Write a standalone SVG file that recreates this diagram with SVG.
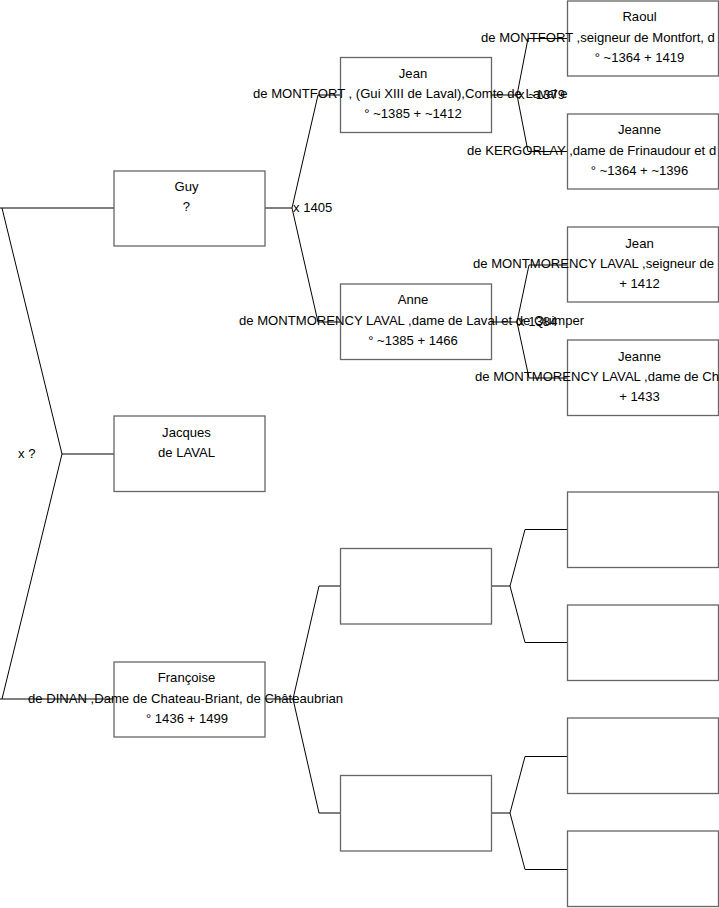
<svg xmlns="http://www.w3.org/2000/svg" width="719" height="908" viewBox="0 0 719 908">
<style>
.box{fill:#fff;stroke:#666;stroke-width:1.3}
.con{fill:none;stroke:#000;stroke-width:1}
text{font-family:"Liberation Sans",Arial,sans-serif;font-size:13.1px;fill:#000}
.c{text-anchor:middle}
</style>
<rect width="719" height="908" fill="#fff"/>
<g id="connectors" class="con">
<path d="M2,208 L62,454 L2,699 M0,208 H114 M0,699 H114 M62,454 H114"/>
<path d="M265,208 H292 M318,95 L292,208 L318,322 M318,95 H341 M318,322 H341"/>
<path d="M265,699 H293 M319,586 L293,699 L319,813 M319,586 H341 M319,813 H341"/>
<path d="M492,95 H517 M528,38.5 L517,95 L528,151.5 M528,38.5 H567 M528,151.5 H567"/>
<path d="M492,322 H517 M529,265 L517,322 L529,378 M529,265 H567 M529,378 H567"/>
<path d="M492,586 H510 M525,529.5 L510,586 L525,642.5 M525,529.5 H567 M525,642.5 H567"/>
<path d="M492,813 H510 M525,756.5 L510,813 L525,869.5 M525,756.5 H567 M525,869.5 H567"/>
</g>
<g id="labels">
<text x="18" y="458">x ?</text>
<text x="293" y="212">x 1405</text>
<text x="518" y="99">x ~1379</text>
<text x="518" y="326">x 1384</text>
</g>
<g id="guy">
<rect class="box" x="114" y="171" width="151" height="75"/>
<text class="c" x="186.5" y="191">Guy</text>
<text class="c" x="186.5" y="211">?</text>
</g>
<g id="jacques">
<rect class="box" x="114" y="416" width="151" height="75.5"/>
<text class="c" x="186.5" y="437">Jacques</text>
<text class="c" x="186.5" y="457">de LAVAL</text>
</g>
<g id="francoise">
<rect class="box" x="114" y="662" width="151" height="75"/>
<text class="c" x="186.5" y="682">Françoise</text>
<text x="28" y="703">de DINAN ,Dame de Chateau-Briant, de Châteaubrian</text>
<text class="c" x="187" y="723">° 1436 + 1499</text>
</g>
<g id="jean">
<rect class="box" x="340.5" y="57.5" width="151" height="75"/>
<text class="c" x="413" y="78">Jean</text>
<text x="253" y="98">de MONTFORT , (Gui XIII de Laval),Comte de Laval e</text>
<text class="c" x="413" y="118">° ~1385 + ~1412</text>
</g>
<g id="anne">
<rect class="box" x="340.5" y="284" width="151" height="75.5"/>
<text class="c" x="413" y="304">Anne</text>
<text x="239" y="325">de MONTMORENCY LAVAL ,dame de Laval et de Quimper</text>
<text class="c" x="413" y="345">° ~1385 + 1466</text>
</g>
<g id="empty1">
<rect class="box" x="340.5" y="548.5" width="151" height="75.5"/>
</g>
<g id="empty2">
<rect class="box" x="340.5" y="775.5" width="151" height="75.5"/>
</g>
<g id="raoul">
<rect class="box" x="567.5" y="1" width="151" height="75"/>
<text class="c" x="639.5" y="21">Raoul</text>
<text x="481" y="42">de MONTFORT ,seigneur de Montfort, d</text>
<text class="c" x="639.5" y="62">° ~1364 + 1419</text>
</g>
<g id="jeanne-kergorlay">
<rect class="box" x="567.5" y="114" width="151" height="75"/>
<text class="c" x="639.5" y="134">Jeanne</text>
<text x="467" y="155">de KERGORLAY ,dame de Frinaudour et d</text>
<text class="c" x="639.5" y="175">° ~1364 + ~1396</text>
</g>
<g id="jean-montmorency">
<rect class="box" x="567.5" y="227" width="151" height="75"/>
<text class="c" x="639.5" y="248">Jean</text>
<text x="473" y="268">de MONTMORENCY LAVAL ,seigneur de</text>
<text class="c" x="639.5" y="288">+ 1412</text>
</g>
<g id="jeanne-montmorency">
<rect class="box" x="567.5" y="340" width="151" height="75.5"/>
<text class="c" x="639.5" y="361">Jeanne</text>
<text x="475" y="381">de MONTMORENCY LAVAL ,dame de Ch</text>
<text class="c" x="639.5" y="401">+ 1433</text>
</g>
<g id="empty3"><rect class="box" x="567.5" y="492" width="151" height="75.5"/></g>
<g id="empty4"><rect class="box" x="567.5" y="605" width="151" height="75.5"/></g>
<g id="empty5"><rect class="box" x="567.5" y="718" width="151" height="75.5"/></g>
<g id="empty6"><rect class="box" x="567.5" y="831" width="151" height="75.5"/></g>
</svg>
